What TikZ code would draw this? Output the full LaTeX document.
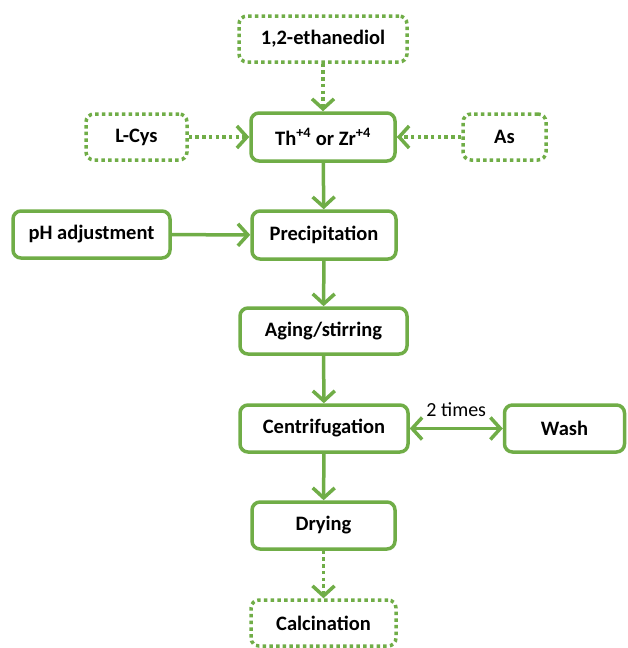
\documentclass[tikz,border=0pt]{standalone}
\usepackage{fontspec}
\setmainfont{Carlito}
\usetikzlibrary{arrows.meta}
\definecolor{grn}{RGB}{112,173,71}
\begin{document}
\begin{tikzpicture}[x=1pt,y=-1pt,
  box/.style={draw=grn,line width=3.5pt,rounded corners=8pt,fill=white,
    font=\fontsize{20.5}{24}\selectfont\bfseries,inner sep=0pt,align=center},
  dotbox/.style={box,dash pattern=on 3.5pt off 3.2pt},
  tip/.style={},
  conn/.style={draw=grn,line width=3.5pt,-{Straight Barb[length=10pt,width=22pt,line width=3.5pt]}},
  dotconn/.style={conn,dash pattern=on 3.5pt off 3.2pt}]
\useasboundingbox (0,0) rectangle (627,648);
\node[dotbox,minimum width=168pt,minimum height=46pt] (eth) at (323,39) {1,2-ethanediol};
\node[dotbox,minimum width=101pt,minimum height=46pt] (cys) at (136.5,137) {L-Cys};
\node[box,minimum width=144pt,minimum height=48pt] (th) at (323,137) {Th\textsuperscript{+4} or Zr\textsuperscript{+4}};
\node[dotbox,minimum width=83pt,minimum height=46pt] (as) at (504.5,137) {As};
\node[box,minimum width=157pt,minimum height=47pt] (ph) at (91.5,234.5) {pH adjustment};
\node[box,minimum width=144pt,minimum height=48pt] (pre) at (324,235) {Precipitation};
\node[box,minimum width=167pt,minimum height=46pt] (age) at (323.5,331) {Aging/stirring};
\node[box,minimum width=168pt,minimum height=47pt] (cen) at (324,428.5) {Centrifugation};
\node[box,minimum width=120pt,minimum height=47pt] (wash) at (564.5,428.5) {Wash};
\node[box,minimum width=143pt,minimum height=47pt] (dry) at (323.5,525.5) {Drying};
\node[dotbox,minimum width=145pt,minimum height=46pt] (cal) at (323.5,623) {Calcination};
\draw[dotconn] (eth) -- (th);
\draw[dotconn] (cys) -- (th);
\draw[dotconn] (as) -- (th);
\draw[conn] (th) -- (pre);
\draw[conn] (ph) -- (pre);
\draw[conn] (pre) -- (age);
\draw[conn] (age) -- (cen);
\draw[conn,{Straight Barb[length=10pt,width=22pt,line width=3.5pt]}-{Straight Barb[length=10pt,width=22pt,line width=3.5pt]}] (cen) -- node[above=7pt,font=\fontsize{20}{24}\selectfont] {2 times} (wash);
\draw[conn] (cen) -- (dry);
\draw[dotconn] (dry) -- (cal);
\end{tikzpicture}
\end{document}
